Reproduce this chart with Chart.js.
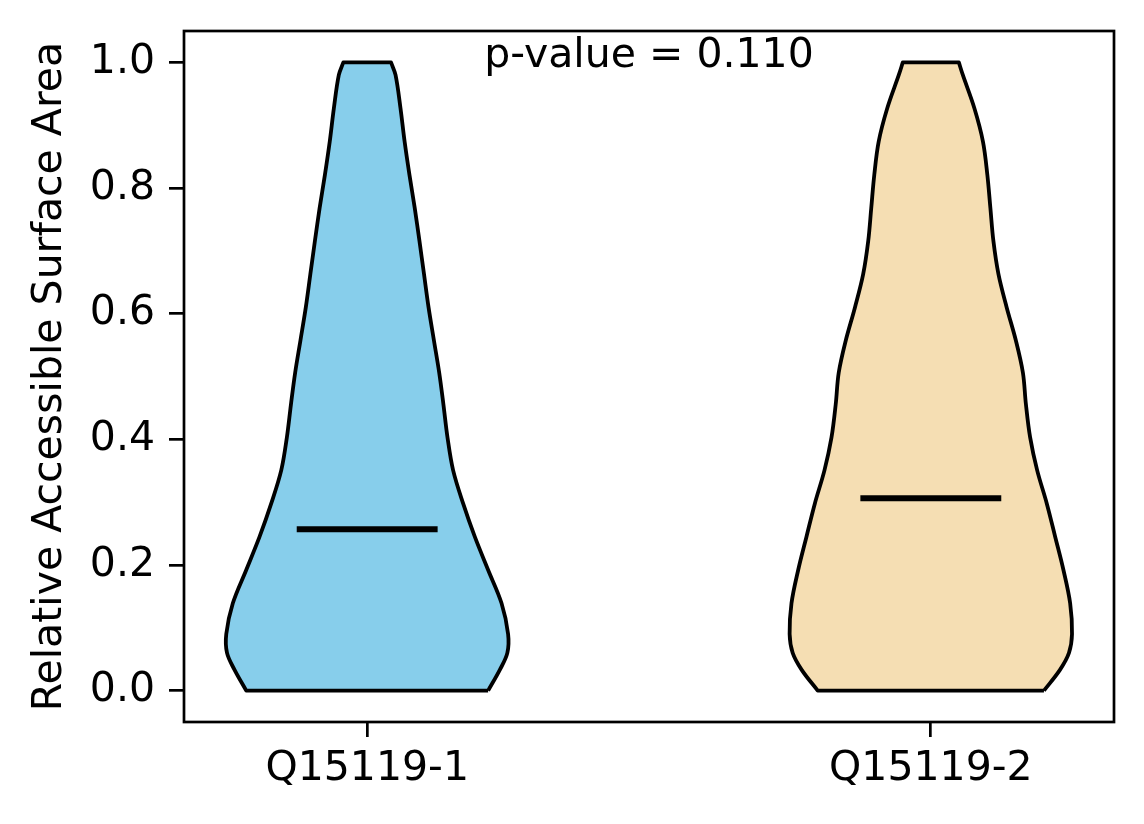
<!DOCTYPE html>
<html>
<head>
<meta charset="utf-8">
<script src="https://cdn.jsdelivr.net/npm/chart.js@4.4.1/dist/chart.umd.min.js"></script>
<style>
  html, body { margin: 0; padding: 0; background: #fff; }
  canvas { display: block; }
</style>
</head>
<body>
<canvas id="violin" width="1144" height="824"></canvas>
<script>
// groups and where they sit on the x axis
var categories = ['Q15119-1', 'Q15119-2'];
var positions = [1, 2];
var colors = ['#87CEEB', '#F5DEB3'];

// RSA levels along each violin and the half width (x units)
var levels = [0, 0.033, 0.060, 0.090, 0.139, 0.192, 0.245, 0.298, 0.351, 0.403, 0.456,
              0.506, 0.557, 0.610, 0.663, 0.716, 0.768, 0.821, 0.874, 0.927, 0.980, 1.0];
var halfWidth1 = [0.2146, 0.2353, 0.2487, 0.2500, 0.2384, 0.2146, 0.1909, 0.1702, 0.1524, 0.1425, 0.1352,
                  0.1278, 0.1185, 0.1089, 0.1008, 0.0927, 0.0844, 0.0750, 0.0664, 0.0591, 0.0503, 0.0423];
var halfWidth2 = [0.2007, 0.2291, 0.2451, 0.2505, 0.2472, 0.2353, 0.2206, 0.2057, 0.1886, 0.1762, 0.1687,
                  0.1634, 0.1510, 0.1346, 0.1200, 0.1110, 0.1057, 0.1003, 0.0925, 0.0773, 0.0568, 0.0497];
var medians = [0.257, 0.306];
var yTicks = [0, 0.2, 0.4, 0.6, 0.8, 1.0];
var pValueText = 'p-value = 0.110';

// outline of one violin: right side up, left side down (corners doubled so they stay sharp)
function outline(pos, hw) {
    var n = levels.length;
    var pts = [];
    var R = function (i) { return { x: pos + hw[i], y: levels[i] }; };
    var L = function (i) { return { x: pos - hw[i], y: levels[i] }; };
    pts.push(R(0), R(0));
    for (var i = 1; i < n - 1; i++) pts.push(R(i));
    pts.push(R(n - 1), R(n - 1), L(n - 1), L(n - 1));
    for (var j = n - 2; j > 0; j--) pts.push(L(j));
    pts.push(L(0), L(0), R(0));
    return pts;
}

var widths = [halfWidth1, halfWidth2];
var datasets = [];
categories.forEach(function (cat, k) {
    datasets.push({
        label: cat,
        data: outline(positions[k], widths[k]),
        showLine: true,
        fill: 'shape',
        backgroundColor: colors[k],
        borderColor: '#000',
        borderWidth: 3.8,
        borderJoinStyle: 'round',
        tension: 0.35,
        pointRadius: 0,
        order: 2
    });
    datasets.push({
        label: cat + ' median',
        data: [{ x: positions[k] - 0.125, y: medians[k] }, { x: positions[k] + 0.125, y: medians[k] }],
        showLine: true,
        fill: false,
        borderColor: '#000',
        borderWidth: 6,
        pointRadius: 0,
        order: 1
    });
});

var framePlugin = {
    id: 'frame',
    afterDatasetsDraw: function (chart) {
        var a = chart.chartArea;
        var ctx = chart.ctx;
        ctx.save();
        ctx.strokeStyle = '#000';
        ctx.lineWidth = 2.7;
        ctx.strokeRect(a.left, a.top, a.right - a.left, a.bottom - a.top);
        ctx.fillStyle = '#000';
        ctx.font = '41px "DejaVu Sans"';
        ctx.textAlign = 'center';
        ctx.textBaseline = 'alphabetic';
        ctx.fillText(pValueText, (a.left + a.right) / 2, a.top + 36);
        ctx.restore();
    }
};

Chart.defaults.font.family = '"DejaVu Sans", sans-serif';
Chart.defaults.font.size = 41;
Chart.defaults.color = '#000';

new Chart(document.getElementById('violin').getContext('2d'), {
    type: 'scatter',
    data: { datasets: datasets },
    plugins: [framePlugin],
    options: {
        responsive: false,
        devicePixelRatio: 1,
        animation: false,
        layout: { padding: { left: 0, top: 31, right: 30, bottom: 0 } },
        plugins: { legend: { display: false }, tooltip: { enabled: false } },
        scales: {
            x: {
                type: 'linear',
                min: 0.675,
                max: 2.325,
                afterBuildTicks: function (scale) {
                    scale.ticks = positions.map(function (p) { return { value: p }; });
                },
                afterFit: function (scale) {
                    scale.height = 102;
                    scale.paddingLeft = 0;
                    scale.paddingRight = 0;
                },
                ticks: {
                    padding: 8,
                    callback: function (v) {
                        var i = positions.indexOf(v);
                        return i >= 0 ? categories[i] : '';
                    }
                },
                grid: { drawOnChartArea: false, drawTicks: true, tickLength: 15, color: '#000', lineWidth: 2.7 },
                border: { display: false }
            },
            y: {
                min: -0.05,
                max: 1.05,
                afterBuildTicks: function (scale) {
                    scale.ticks = yTicks.map(function (v) { return { value: v }; });
                },
                afterFit: function (scale) {
                    scale.width = 184;
                    scale.paddingTop = 0;
                    scale.paddingBottom = 0;
                },
                ticks: {
                    padding: 14,
                    callback: function (v) { return v.toFixed(1); }
                },
                title: {
                    display: true,
                    text: 'Relative Accessible Surface Area',
                    padding: { top: 26, bottom: 0 }
                },
                grid: { drawOnChartArea: false, drawTicks: true, tickLength: 15, color: '#000', lineWidth: 2.7 },
                border: { display: false }
            }
        }
    }
});
</script>
</body>
</html>
